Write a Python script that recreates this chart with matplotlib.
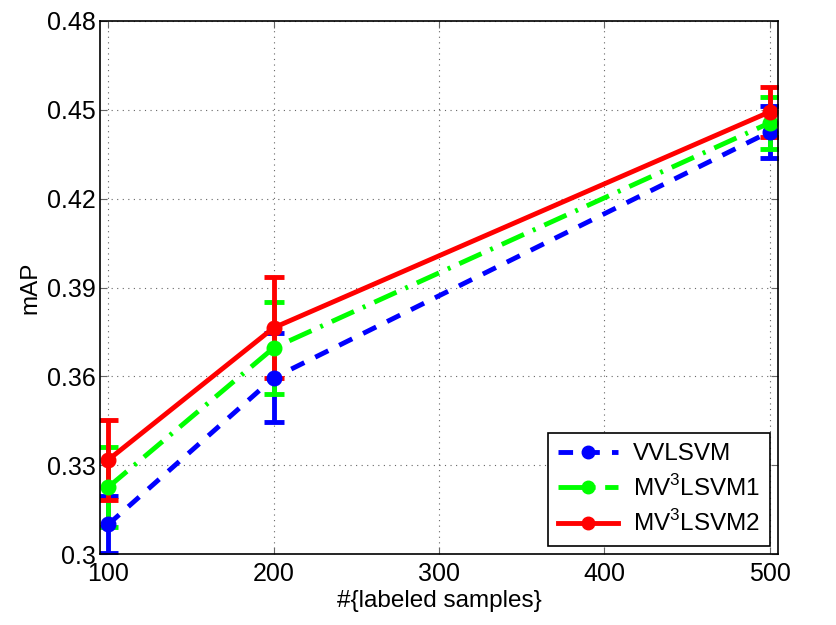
import matplotlib

matplotlib.use("Agg")
import matplotlib.pyplot as plt  # noqa: E402
from matplotlib.lines import Line2D  # noqa: E402

plt.rcParams["font.family"] = ["Liberation Sans", "DejaVu Sans"]
plt.rcParams["mathtext.fontset"] = "custom"
plt.rcParams["mathtext.rm"] = "Liberation Sans"

samples = [100, 200, 500]
x_ticks = [100, 200, 300, 400, 500]
y_ticks = [0.30, 0.33, 0.36, 0.39, 0.42, 0.45, 0.48]
y_tick_labels = ["0.3", "0.33", "0.36", "0.39", "0.42", "0.45", "0.48"]

vvlsvm = [0.310, 0.3595, 0.4426]
vvlsvm_err = [0.0095, 0.015, 0.0088]
mv3lsvm1 = [0.3226, 0.3696, 0.4456]
mv3lsvm1_err = [0.0135, 0.0155, 0.0088]
mv3lsvm2 = [0.3318, 0.3764, 0.4493]
mv3lsvm2_err = [0.0135, 0.017, 0.0085]

series = [
    ("VVLSVM", vvlsvm, vvlsvm_err, "#0000ff", (0, (3, 2.5))),
    ("MV$^3$LSVM1", mv3lsvm1, mv3lsvm1_err, "#00ff00", (0, (5, 2, 0.6, 2))),
    ("MV$^3$LSVM2", mv3lsvm2, mv3lsvm2_err, "#ff0000", "-"),
]

fig = plt.figure(figsize=(8.37, 6.25), dpi=100)
ax = fig.add_axes([0.1195, 0.1136, 0.81, 0.8528])

handles = []
for name, vals, err, color, ls in series:
    ax.errorbar(samples, vals, yerr=err, color=color, linestyle=ls, linewidth=3.5,
                marker="o", markersize=10.5, elinewidth=3.5, capsize=7, capthick=3.5)
    handles.append(Line2D([], [], color=color, linestyle=ls, linewidth=3.5,
                          marker="o", markersize=9, label=name))

ax.set_xlim(95, 505)
ax.set_ylim(0.30, 0.48)
ax.set_xticks(x_ticks)
ax.set_yticks(y_ticks)
ax.set_yticklabels(y_tick_labels)
ax.tick_params(direction="in", labelsize=18, length=5, color="0.4",
               top=True, right=True)
ax.tick_params(axis="x", pad=6)
ax.tick_params(axis="y", pad=3)
ax.grid(True, color="0.4", linestyle=(0, (1, 4)), linewidth=0.8)
for sp in ax.spines.values():
    sp.set_linewidth(1.2)

ax.set_xlabel("#{labeled samples}", fontsize=17.5, labelpad=3)
ax.set_ylabel("mAP", fontsize=17.5, labelpad=4)

leg = ax.legend(handles=handles, loc="lower right", fontsize=17.5, frameon=True,
                fancybox=False, edgecolor="black", framealpha=1, handlelength=2.5,
                borderaxespad=0.33, labelspacing=0.4, borderpad=0.4,
                handletextpad=0.6)
leg.get_frame().set_linewidth(1.2)

fig.savefig("out.png", dpi=100)
